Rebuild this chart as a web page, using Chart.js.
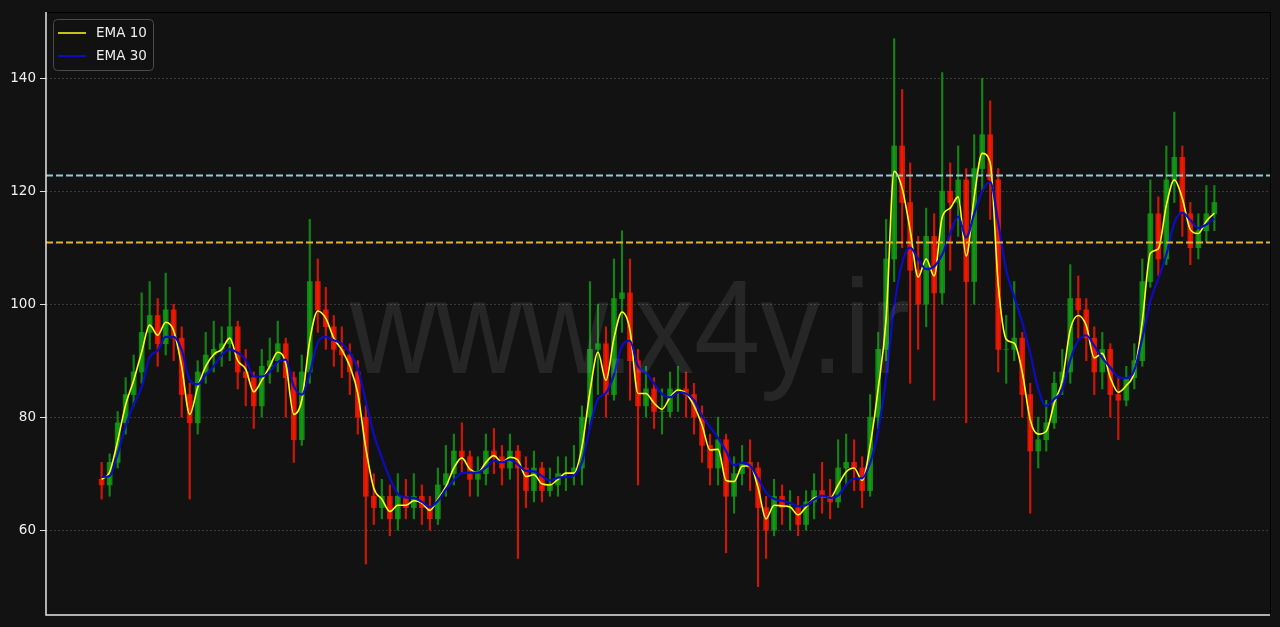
<!DOCTYPE html>
<html>
<head>
<meta charset="utf-8">
<script src="https://cdn.jsdelivr.net/npm/chart.js@4.4.1/dist/chart.umd.min.js"></script>
<style>
  html, body { margin: 0; padding: 0; background: #121212; }
  #wrap { width: 1280px; height: 627px; }
</style>
</head>
<body>
<div id="wrap"><canvas id="myChart" width="1280" height="627"></canvas></div>
<script>
// candles, one per step
const opens = [69,68,72,79,84,88,95,98,93,99, 94,84,79,88,91,92,93,96,88,87, 82,89,90,93,87,76,88,104,99,96,
  92,91,88,80,66,64,66,62,66,64, 66,64,62,68,70,74,73,69,70,74, 73,71,74,71,67,71,67,68,70,70,
  71,80,92,93,84,101,102,90,82,85, 81,81,85,85,84,80,75,71,76,66, 70,72,71,64,60,66,64,64,61,65,
  67,66,65,71,72,71,67,80,92,108, 128,118,106,100,112,102,120,118,122,104, 124,130,122,92,92,94,84,74,76,79,
  86,88,101,99,94,88,92,84,83,87, 90,104,116,108,122,126,116,110,113,116];
const closes = [68,72,79,84,88,95,98,93,99,94, 84,79,88,91,92,93,96,88,87,82, 89,90,93,87,76,88,104,99,96,92,
  91,88,80,66,64,66,62,66,64,66, 64,62,68,70,74,73,69,70,74,73, 71,74,71,67,71,67,68,70,70,71,
  80,92,93,84,101,102,90,82,85,81, 81,85,85,84,80,75,71,76,66,70, 72,71,64,60,66,64,64,61,65,67,
  66,65,71,72,71,67,80,92,108,128, 118,106,100,112,102,120,118,122,104,124, 130,122,92,92,94,84,74,76,79,86,
  88,101,99,94,88,92,84,83,87,90, 104,116,108,122,126,116,110,113,116,118];
const highs = [72,73.5,81,87,91,102,104,101,105.5,100, 96,86,90,95,97,96,103,97,92,88, 92,94,97,94,88,91,115,108,103,98,
  96,93,90,82,70,69,68,70,69,70, 68,66,71,75,77,79,74,73,77,78, 75,77,75,73,74,72,71,73,73,75,
  82,104,100,96,108,113,108,92,89,87, 85,88,89,88,86,82,77,80,77,73, 75,76,72,66,69,68,67,66,67,70,
  72,69,76,77,76,73,84,95,115,147, 138,125,112,117,116,141,125,128,124,130, 140,136,124,98,104,95,86,80,83,88,
  92,107,105,101,96,95,93,87,89,93, 108,122,119,128,134,128,118,116,121,121];
const lows = [65.5,66,71,77,82,86,92,89,91,90, 80,65.5,77,86,88,89,90,85,82,78, 80,86,88,80,72,75,86,95,92,89,
  87,84,77,54,61,62,59,60,62,62, 61,60,61,66,68,70,66,66,68,70, 68,69,55,64,65,65,66,66,67,68,
  68,78,84,80,83,95,83,68,80,78, 77,80,81,80,77,72,68,68,56,63, 68,67,50,55,59,61,60,59,60,62,
  63,62,64,68,67,64,66,78,90,104, 110,86,92,96,83,100,106,112,79,100, 120,115,88,86,90,80,63,71,74,78,
  84,86,94,90,84,85,80,76,82,85, 89,103,105,107,118,112,107,108,111,113];

const ema10 = [69,70.3,75.8,82.2,86.5,91.5,96.3,94.5,96.8,95.3, 89,80.5,85.3,89,91.1,92,94,90,88.5,84.5,
  86.5,89,91.5,89.5,80.5,83,93.6,98.8,97.5,94, 91.9,89,84.2,74.5,67.4,65.5,63.3,64.4,64.4,65.2,
  64.8,63.5,65.5,67.7,71,72.8,70.8,70.2,72,73.2, 72,72.9,72.4,69.5,69.8,68.2,68,69,70.1,70.1,
  74.7,84.5,91.5,86.5,94,98.6,95.4,84.2,84.2,82.5, 81.4,83.5,84.8,84.2,82,78.6,74.2,74.3,68.8,68.6,
  71.3,71.4,67.5,62,64.4,64.3,64.1,62.7,64.1,65.7, 66,65.7,68,70.3,71,68.8,75,85,97.5,123.5,
  120.5,113.1,104.8,108,105,115.4,117,119,108.5,119, 126.7,125,103.5,93.8,93.1,88,79.5,77,77.5,82.5,
  86.5,95.5,98,96.2,90.5,91.3,87,84.4,85.6,88, 97,109,109.8,117.5,122,118.7,113.2,112.5,114.7,116.1];
const ema30 = [69.4,69.6,73.5,78.5,82.2,85.3,90.6,91.8,94.2,94.2, 91.9,86.6,85.8,87.5,89,91,92,91.4,90.2,87.2,
  87.2,88,89.8,90.2,85.5,84,87.8,93.2,94.2,93.6, 93,91.4,88.6,82.8,77,72.8,69.2,66.4,65.8,65.7,
  65,64.1,65.2,67.2,68.9,70.1,70.2,70.2,71.1,72.3, 72,72.5,71.6,70.5,70.4,69.6,68.8,69.3,69.4,69.7,
  72,78.2,83.2,84.3,87.5,92.6,93.5,89,87.9,86, 84.1,83.5,84.4,84.2,83,80.2,78.3,76.3,74,71.5,
  71.9,71.4,69.2,66.6,65.5,65.2,64.8,64.2,64.4,65.4, 66.1,65.7,66.1,68,69.1,69.2,71.9,77.5,87,99.5,
  107.3,110,108,106.2,106.7,108.8,112.5,115.5,111.8,116, 120,121.6,114.4,106,101.3,96.8,91.3,85,82,83.2,
  84.8,90.1,93.6,94.5,92.6,90.5,88.8,87.1,86.9,88.3, 94,100.5,104.5,108.8,114.4,116.2,114.9,113.5,114.1,115.2];

const yTicks = [60, 80, 100, 120, 140];
const levels = [122.8, 111.0];
const levelColors = ['#8fc9da', '#e2b52f'];
const seriesNames = ['EMA 10', 'EMA 30'];
const seriesColors = ['#ffff1a', '#0c0cc0'];
const watermarkText = 'www.x4y.ir';

const up = 'rgba(20,160,20,0.8)';
const down = 'rgba(255,25,0,0.8)';
const candleColors = closes.map((c, i) => c >= opens[i] ? up : down);
const n = closes.length;
const pad = (n - 1) * 0.05;

const bgPlugin = {
  id: 'bg',
  beforeDraw(chart) {
    const ctx = chart.ctx;
    ctx.save();
    ctx.fillStyle = '#121212';
    ctx.fillRect(0, 0, chart.width, chart.height);
    ctx.restore();
  }
};

const overlay = {
  id: 'overlay',
  afterDatasetsDraw(chart) {
    const ctx = chart.ctx;
    const a = chart.chartArea;
    const ys = chart.scales.y;
    ctx.save();
    ctx.beginPath();
    ctx.rect(a.left, a.top, a.right - a.left, a.bottom - a.top);
    ctx.clip();
    // horizontal levels
    ctx.lineWidth = 2;
    ctx.setLineDash([7, 3]);
    levels.forEach((v, k) => {
      const py = Math.round(ys.getPixelForValue(v)) + 0.5;
      ctx.strokeStyle = levelColors[k];
      ctx.beginPath();
      ctx.moveTo(a.left, py);
      ctx.lineTo(a.right, py);
      ctx.stroke();
    });
    // watermark
    ctx.setLineDash([]);
    ctx.font = '133px "Liberation Sans", Arial, sans-serif';
    const w = ctx.measureText(watermarkText).width;
    ctx.translate(350, 373);
    ctx.scale(560 / w, 1);
    ctx.fillStyle = 'rgba(255,255,255,0.085)';
    ctx.textBaseline = 'alphabetic';
    ctx.fillText(watermarkText, 0, 0);
    ctx.restore();
  },
  afterDraw(chart) {
    const ctx = chart.ctx;
    const a = chart.chartArea;
    ctx.save();
    // spines
    ctx.strokeStyle = '#000';
    ctx.lineWidth = 1;
    ctx.beginPath();
    ctx.moveTo(a.left, a.top + 0.5); ctx.lineTo(a.right + 0.5, a.top + 0.5); ctx.lineTo(a.right + 0.5, a.bottom);
    ctx.stroke();
    ctx.strokeStyle = '#e6e6e6';
    ctx.lineWidth = 1.5;
    ctx.beginPath();
    ctx.moveTo(a.left, a.top); ctx.lineTo(a.left, a.bottom); ctx.lineTo(a.right, a.bottom);
    ctx.stroke();
    // legend
    const lx = 53, ly = 19, lw = 100, lh = 51;
    ctx.fillStyle = 'rgba(18,18,18,0.85)';
    ctx.strokeStyle = '#4a4a4a';
    ctx.lineWidth = 1;
    ctx.beginPath();
    ctx.roundRect(lx + 0.5, ly + 0.5, lw, lh, 4);
    ctx.fill();
    ctx.stroke();
    ctx.font = '13.5px "DejaVu Sans", sans-serif';
    ctx.textBaseline = 'middle';
    seriesNames.forEach((name, k) => {
      const y = ly + 14 + k * 23;
      ctx.strokeStyle = seriesColors[k];
      ctx.lineWidth = k === 0 ? 1.5 : 2;
      ctx.beginPath();
      ctx.moveTo(lx + 5, y);
      ctx.lineTo(lx + 33, y);
      ctx.stroke();
      ctx.fillStyle = '#eeeeee';
      ctx.fillText(name, lx + 43, y);
    });
    ctx.restore();
  }
};

const ctx = document.getElementById('myChart');

new Chart(ctx, {
  type: 'bar',
  data: {
    datasets: [
      {
        type: 'line',
        label: seriesNames[1],
        data: ema30.map((v, i) => ({ x: i, y: v })),
        borderColor: seriesColors[1],
        borderWidth: 2.2,
        pointRadius: 0,
        cubicInterpolationMode: 'monotone',
        order: 0
      },
      {
        type: 'line',
        label: seriesNames[0],
        data: ema10.map((v, i) => ({ x: i, y: v })),
        borderColor: seriesColors[0],
        borderWidth: 1.6,
        pointRadius: 0,
        cubicInterpolationMode: 'monotone',
        order: 1
      },
      {
        label: 'body',
        data: opens.map((o, i) => ({ x: i, y: [o, closes[i]] })),
        backgroundColor: candleColors,
        barThickness: 5,
        grouped: false,
        order: 2
      },
      {
        label: 'wick',
        data: lows.map((l, i) => ({ x: i, y: [l, highs[i]] })),
        backgroundColor: candleColors,
        barThickness: 1.5,
        grouped: false,
        order: 3
      }
    ]
  },
  options: {
    responsive: false,
    animation: false,
    devicePixelRatio: 1,
    layout: { padding: { left: 0, top: 12, right: 10, bottom: 12 } },
    plugins: {
      legend: { display: false },
      tooltip: { enabled: false }
    },
    scales: {
      x: {
        type: 'linear',
        display: false,
        offset: false,
        min: -pad,
        max: n - 1 + pad
      },
      y: {
        min: 45,
        max: 151.7,
        afterFit: (s) => { s.width = 46; },
        afterBuildTicks: (s) => { s.ticks = yTicks.map(v => ({ value: v })); },
        ticks: {
          color: '#f0f0f0',
          padding: 4,
          font: { family: 'DejaVu Sans', size: 13.5 }
        },
        grid: {
          color: '#444444',
          lineWidth: 0.8,
          tickColor: '#dddddd',
          tickLength: 6,
          tickWidth: 1,
          tickBorderDash: []
        },
        border: { display: false, dash: [2, 2] }
      }
    }
  },
  plugins: [bgPlugin, overlay]
});
</script>
</body>
</html>
